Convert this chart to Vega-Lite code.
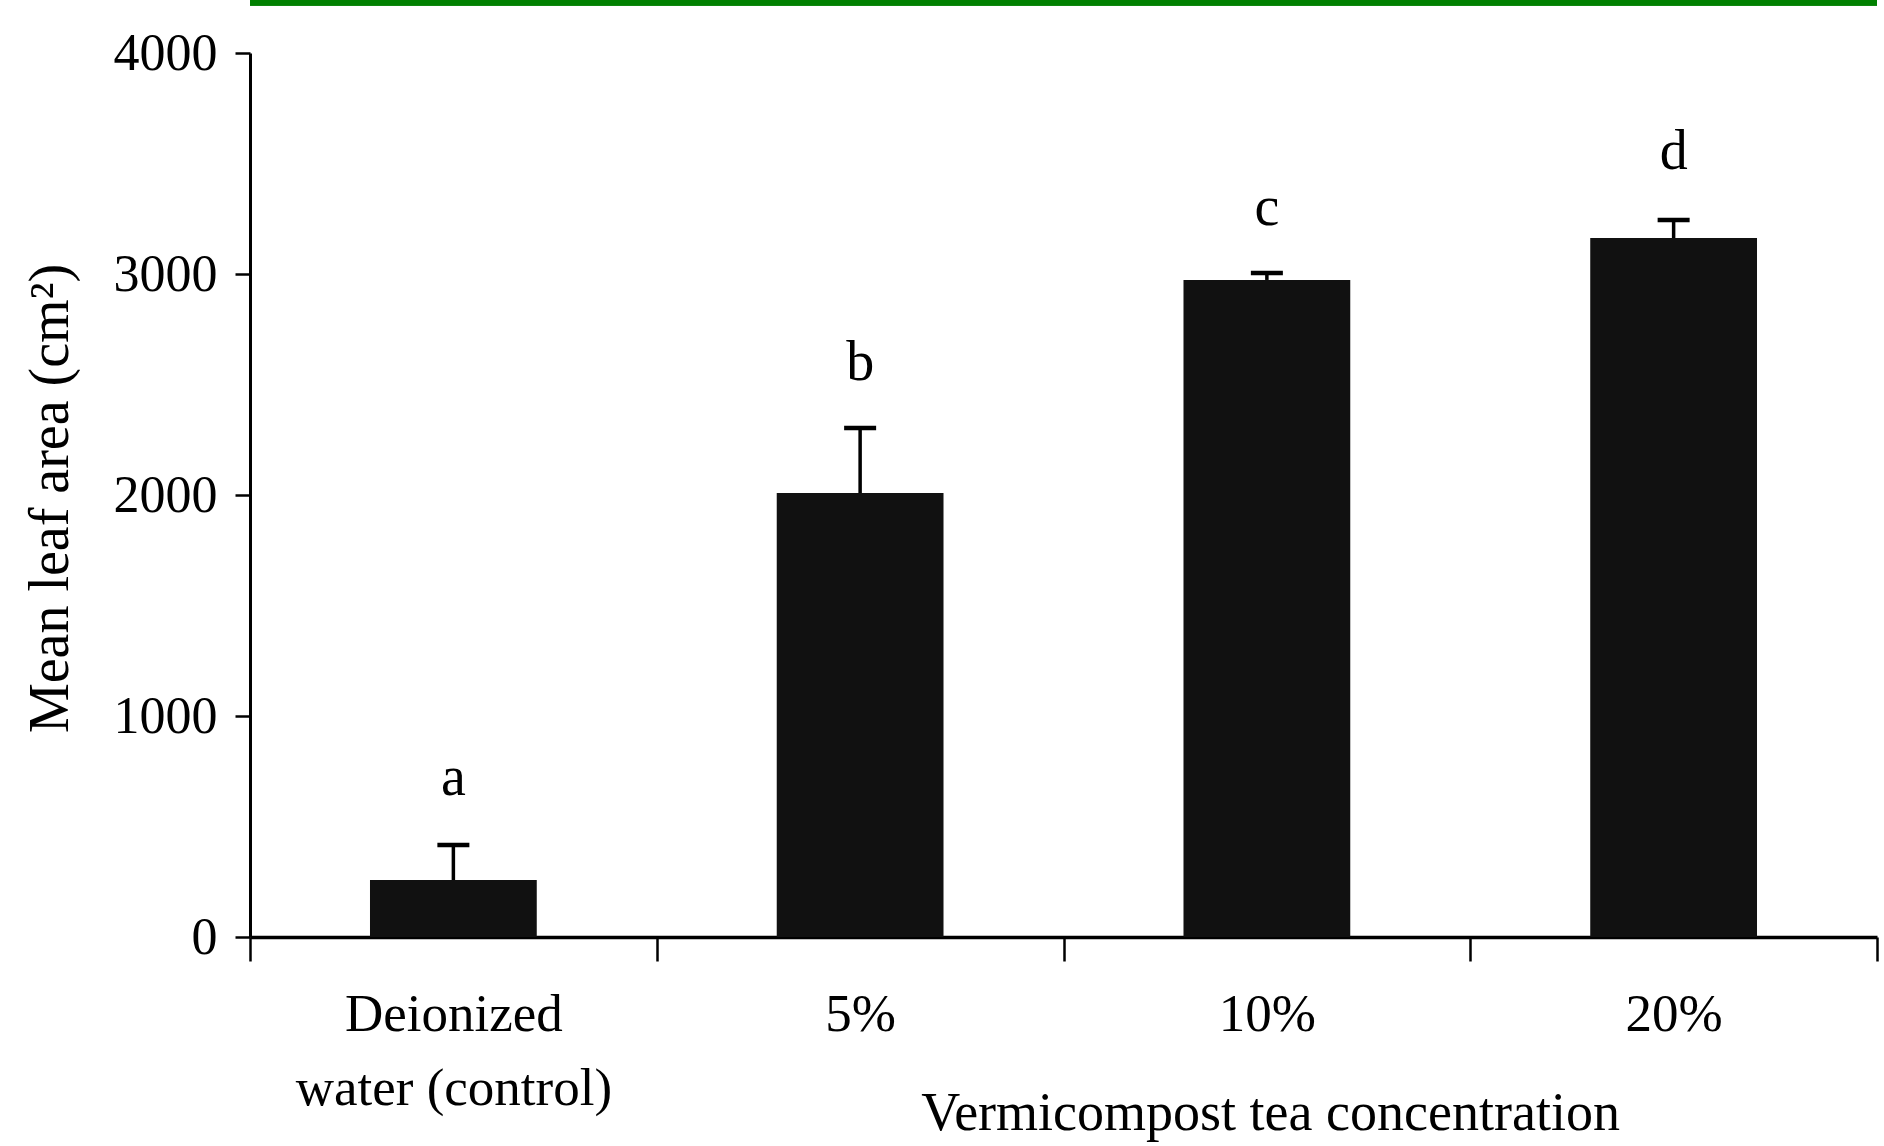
{
  "$schema": "https://vega.github.io/schema/vega-lite/v6.json",
  "autosize": "none",
  "width": 1627,
  "height": 884,
  "padding": {"left": 250, "top": 53, "right": 7, "bottom": 209},
  "background": "white",
  "config": {
    "view": {"stroke": null},
    "font": "Liberation Serif",
    "axis": {"labelFont": "Liberation Serif", "titleFont": "Liberation Serif", "labelColor": "black", "titleColor": "black", "titleFontWeight": "normal", "domainColor": "black", "tickColor": "black"}
  },
  "data": {
    "values": [
      {"treatment": "Deionized water (control)", "mean": 258, "upper": 416, "letter": "a", "letterPos": 719},
      {"treatment": "5%", "mean": 2009, "upper": 2303, "letter": "b", "letterPos": 2597},
      {"treatment": "10%", "mean": 2973, "upper": 3005, "letter": "c", "letterPos": 3299},
      {"treatment": "20%", "mean": 3163, "upper": 3244, "letter": "d", "letterPos": 3552}
    ]
  },
  "layer": [
    {
      "mark": {"type": "bar", "color": "#111111", "width": {"band": 0.41}},
      "encoding": {
        "x": {
          "field": "treatment",
          "type": "nominal",
          "sort": null,
          "scale": {"paddingInner": 0, "paddingOuter": 0},
          "axis": {
            "title": "Vermicompost tea concentration",
            "titleFontSize": 54,
            "titleX": 1020,
            "titleY": 192,
            "titleBaseline": "alphabetic",
            "labelAngle": 0,
            "labelFontSize": 53,
            "labelLimit": 0,
            "labelExpr": "datum.value == 'Deionized water (control)' ? ['Deionized', 'water (control)'] : datum.value",
            "labelLineHeight": 74,
            "labelBaseline": "top",
            "labelPadding": 27,
            "tickBand": "extent",
            "tickSize": 24,
            "tickWidth": 2.5,
            "domainWidth": 3.5
          }
        },
        "y": {
          "field": "mean",
          "type": "quantitative",
          "scale": {"domain": [0, 4000], "nice": false},
          "axis": {
            "title": "Mean leaf area (cm²)",
            "titleFontSize": 56,
            "titleX": -200,
            "titleY": 445,
            "titleAngle": -90,
            "titleAlign": "center",
            "titleBaseline": "middle",
            "values": [0, 1000, 2000, 3000, 4000],
            "format": "d",
            "grid": false,
            "labelFontSize": 52,
            "labelPadding": 18,
            "tickSize": 15,
            "tickWidth": 2.5,
            "domainWidth": 3
          }
        }
      }
    },
    {
      "mark": {"type": "rule", "color": "black", "strokeWidth": 3.5},
      "encoding": {
        "x": {"field": "treatment", "type": "nominal", "sort": null},
        "y": {"field": "mean", "type": "quantitative"},
        "y2": {"field": "upper"}
      }
    },
    {
      "mark": {"type": "tick", "color": "black", "opacity": 1, "size": 32, "thickness": 4.5},
      "encoding": {
        "x": {"field": "treatment", "type": "nominal", "sort": null},
        "y": {"field": "upper", "type": "quantitative"}
      }
    },
    {
      "mark": {"type": "text", "fontSize": 56, "font": "Liberation Serif", "baseline": "middle", "color": "black"},
      "encoding": {
        "x": {"field": "treatment", "type": "nominal", "sort": null},
        "y": {"field": "letterPos", "type": "quantitative"},
        "text": {"field": "letter"}
      }
    },
    {
      "mark": {"type": "rule", "color": "#008000", "strokeWidth": 6, "clip": false},
      "encoding": {
        "y": {"datum": 4228, "type": "quantitative"}
      }
    }
  ]
}
